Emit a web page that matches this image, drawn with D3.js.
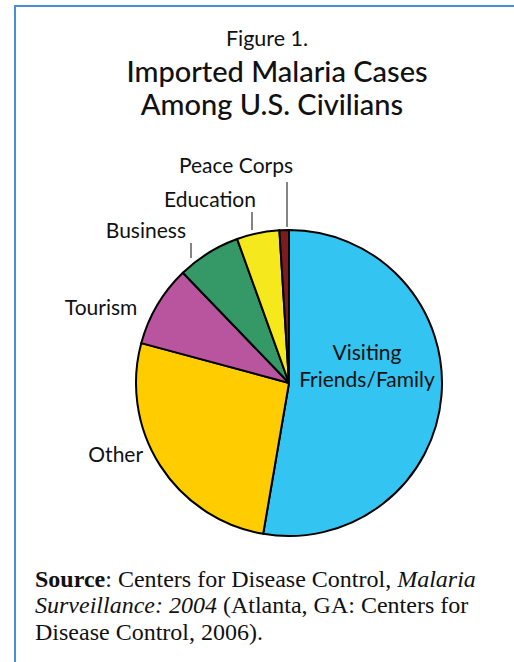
<!DOCTYPE html>
<html lang="en">
<head>
<meta charset="UTF-8">
<title>malaria</title>
<script src="https://cdn.jsdelivr.net/npm/d3@7"></script>
<style>
	body { margin: 0; background: #fff; }
	svg { display: block; }
	.title { font-family: Lato, sans-serif; fill: #111; text-anchor: middle; }
	.label { font-family: Lato, sans-serif; font-size: 21px; fill: #111; }
	.source { font-family: "Liberation Serif", serif; font-size: 24px; fill: #111; }
</style>
</head>
<body>
<div id="viz"></div>
<script>
	// slices, clockwise from 12 o'clock (percent of cases)
	var categories = ['Visiting Friends/Family', 'Other', 'Tourism', 'Business', 'Education', 'Peace Corps'];
	var shares = [52.7, 26.5, 8.6, 6.7, 4.5, 1.0];
	var colors = ['#33C4F1', '#FFCC00', '#B8559E', '#349966', '#F5E81C', '#7D1B1E'];

	var width = 514, height = 662;
	var cx = 289, cy = 383, radius = 153;

	var svg = d3.select('#viz').append('svg')
		.attr('width', width)
		.attr('height', height);

	// frame (left + top rule)
	svg.append('path')
		.attr('d', 'M15,662 V6 H514')
		.attr('fill', 'none')
		.attr('stroke', '#4A8FD6')
		.attr('stroke-width', 2);

	svg.append('text').attr('class', 'title')
		.attr('x', 267).attr('y', 46)
		.style('font-size', '21.5px')
		.text('Figure 1.');
	svg.append('text').attr('class', 'title')
		.attr('x', 277).attr('y', 82)
		.style('font-size', '29px').style('font-weight', 500)
		.text('Imported Malaria Cases');
	svg.append('text').attr('class', 'title')
		.attr('x', 272).attr('y', 115)
		.style('font-size', '29px').style('font-weight', 500)
		.text('Among U.S. Civilians');

	var pie = d3.pie().sort(null).value(function (d) { return d; });
	var arc = d3.arc().innerRadius(0).outerRadius(radius);
	var arcs = pie(shares);

	var g = svg.append('g').attr('transform', 'translate(' + cx + ',' + cy + ')');

	g.selectAll('path.slice')
		.data(arcs)
		.enter().append('path')
		.attr('class', 'slice')
		.attr('d', arc)
		.attr('fill', function (d, i) { return colors[i]; })
		.attr('stroke', '#000')
		.attr('stroke-width', 2)
		.attr('stroke-linejoin', 'round');

	// label placement, relative to the slice's point on the rim
	var layout = {
		'Other':       {a: 'end', dx: -17, dy: -3},
		'Tourism':     {a: 'end', dx: -20, dy: 10},
		'Business':    {a: 'end', dx: -5, dy: -5, lead: [191, 243, 258]},
		'Education':   {a: 'end', dx: 4, dy: -5, lead: [252, 212, 230]},
		'Peace Corps': {a: 'middle', dx: -51, dy: -9, lead: [287, 182, 227]}
	};

	function rim(d) {
		var m = (d.startAngle + d.endAngle) / 2;
		return [radius * Math.sin(m), -radius * Math.cos(m)];
	}

	arcs.forEach(function (d, i) {
		var name = categories[i];
		if (i === 0) {
			var t = g.append('text').attr('class', 'label')
				.attr('text-anchor', 'middle');
			t.append('tspan').attr('x', 78).attr('y', -23).text('Visiting');
			t.append('tspan').attr('x', 78).attr('y', 4).text('Friends/Family');
			return;
		}
		var L = layout[name];
		var p = rim(d);
		if (L.lead) {
			svg.append('line')
				.attr('x1', L.lead[0]).attr('x2', L.lead[0])
				.attr('y1', L.lead[1]).attr('y2', L.lead[2])
				.attr('stroke', '#333').attr('stroke-width', 1.2);
			svg.append('text').attr('class', 'label')
				.attr('text-anchor', L.a)
				.attr('x', L.lead[0] + L.dx)
				.attr('y', L.lead[1] + L.dy)
				.text(name);
		} else {
			g.append('text').attr('class', 'label')
				.attr('text-anchor', L.a)
				.attr('x', p[0] + L.dx)
				.attr('y', p[1] + L.dy)
				.text(name);
		}
	});

	var src = svg.append('text').attr('class', 'source');
	var l1 = src.append('tspan').attr('x', 35).attr('y', 587);
	l1.append('tspan').style('font-weight', 'bold').text('Source');
	l1.append('tspan').text(': Centers for Disease Control, ');
	l1.append('tspan').style('font-style', 'italic').text('Malaria');
	var l2 = src.append('tspan').attr('x', 35).attr('y', 613);
	l2.append('tspan').style('font-style', 'italic').text('Surveillance: 2004');
	l2.append('tspan').text(' (Atlanta, GA: Centers for');
	src.append('tspan').attr('x', 35).attr('y', 640).text('Disease Control, 2006).');
</script>
</body>
</html>
